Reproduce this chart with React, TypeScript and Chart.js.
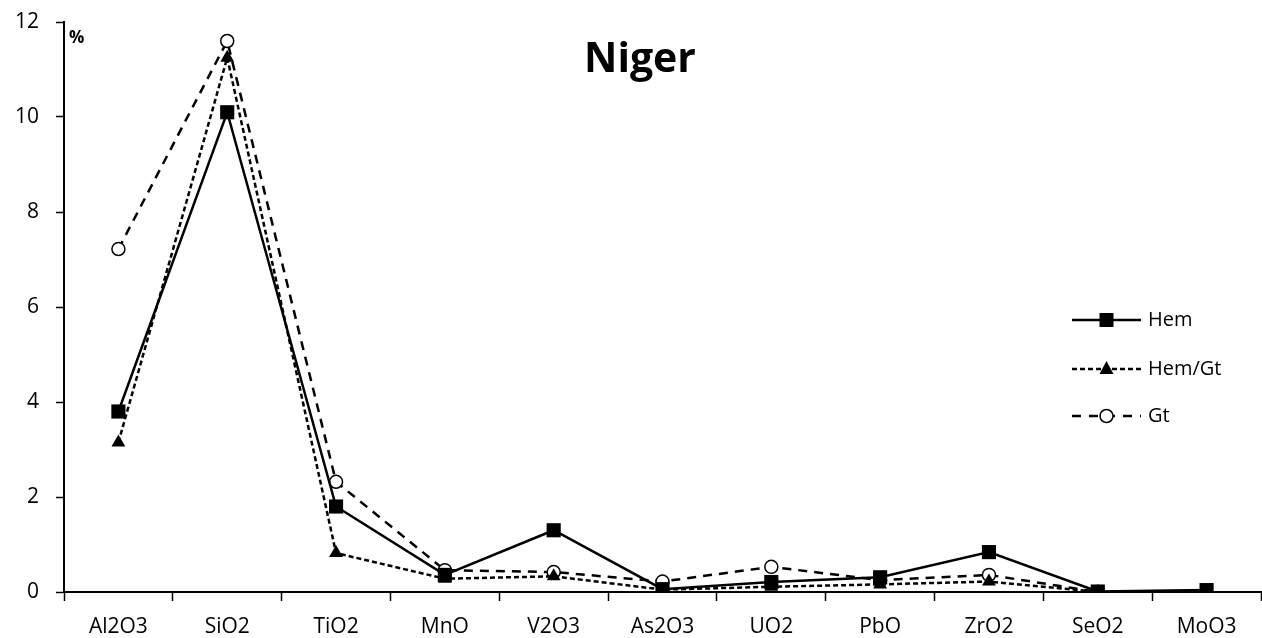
import React, { useEffect, useRef } from "react";
import { Chart, registerables } from "chart.js";

Chart.register(...registerables);

const categories = ["Al2O3", "SiO2", "TiO2", "MnO", "V2O3", "As2O3", "UO2", "PbO", "ZrO2", "SeO2", "MoO3"];
const hem = [3.8, 10.1, 1.8, 0.36, 1.3, 0.06, 0.21, 0.31, 0.84, 0.01, 0.04];
const hemGt = [3.15, 11.25, 0.82, 0.28, 0.33, 0.05, 0.11, 0.16, 0.22, 0.0, null];
const gt = [7.22, 11.6, 2.32, 0.46, 0.42, 0.22, 0.53, 0.25, 0.36, 0.0, null];
const yTicks = [0, 2, 4, 6, 8, 10, 12];
const seriesNames = ["Hem", "Hem/Gt", "Gt"];
const chartTitle = "Niger";
const unitLabel = "%";

const FONT = "'Open Sans', 'Noto Sans', sans-serif";

export default function App() {
  const ref = useRef<HTMLCanvasElement | null>(null);

  useEffect(() => {
    document.body.style.margin = "0";
    const canvas = ref.current;
    if (!canvas) return;

    const overlay = {
      id: "overlay",
      afterDraw(chart: any) {
        const ctx = chart.ctx;
        const area = chart.chartArea;
        ctx.save();
        // title
        ctx.fillStyle = "#000";
        ctx.font = `bold 41px ${FONT}`;
        ctx.textAlign = "center";
        ctx.textBaseline = "alphabetic";
        ctx.fillText(chartTitle, 640, 72);
        // unit label
        ctx.font = `bold 17px ${FONT}`;
        ctx.textAlign = "left";
        ctx.fillText(unitLabel, area.left + 5, 43);
        // legend
        const rows = [
          { y: 320, dash: [], style: "rect" },
          { y: 369, dash: [5, 3], style: "triangle" },
          { y: 416, dash: [9, 8], style: "circle" },
        ];
        const x0 = 1072, x1 = 1141, xm = (x0 + x1) / 2;
        rows.forEach((r, i) => {
          ctx.beginPath();
          ctx.setLineDash(r.dash);
          ctx.lineWidth = 2.5;
          ctx.strokeStyle = "#000";
          ctx.moveTo(x0, r.y);
          ctx.lineTo(x1, r.y);
          ctx.stroke();
          ctx.setLineDash([]);
          ctx.fillStyle = "#000";
          if (r.style === "rect") {
            ctx.fillRect(xm - 7, r.y - 7, 14, 14);
          } else if (r.style === "triangle") {
            ctx.beginPath();
            ctx.moveTo(xm, r.y - 8);
            ctx.lineTo(xm + 7, r.y + 5);
            ctx.lineTo(xm - 7, r.y + 5);
            ctx.closePath();
            ctx.fill();
          } else {
            ctx.beginPath();
            ctx.arc(xm, r.y, 6.5, 0, Math.PI * 2);
            ctx.fillStyle = "#fff";
            ctx.fill();
            ctx.lineWidth = 1.5;
            ctx.stroke();
          }
          ctx.fillStyle = "#000";
          ctx.font = `20px ${FONT}`;
          ctx.textAlign = "left";
          ctx.textBaseline = "middle";
          ctx.fillText(seriesNames[i], 1148, r.y);
        });
        ctx.restore();
      },
    };

    const chart = new Chart(canvas, {
      type: "line",
      data: {
        labels: categories,
        datasets: [
          {
            label: seriesNames[0],
            data: hem,
            borderColor: "#000",
            backgroundColor: "#000",
            borderWidth: 2.5,
            pointStyle: "rect",
            pointRadius: 10,
            pointBorderWidth: 0,
            pointBackgroundColor: "#000",
            tension: 0,
          },
          {
            label: seriesNames[1],
            data: hemGt,
            borderColor: "#000",
            backgroundColor: "#000",
            borderWidth: 2.5,
            borderDash: [5, 3],
            pointStyle: "triangle",
            pointRadius: 8,
            pointBorderWidth: 0,
            pointBackgroundColor: "#000",
            tension: 0,
          },
          {
            label: seriesNames[2],
            data: gt,
            borderColor: "#000",
            backgroundColor: "#fff",
            borderWidth: 2.5,
            borderDash: [9, 7],
            pointStyle: "circle",
            pointRadius: 6.5,
            pointBorderWidth: 1.5,
            pointBorderColor: "#000",
            pointBackgroundColor: "#fff",
            tension: 0,
          },
        ],
      },
      options: {
        responsive: false,
        maintainAspectRatio: false,
        animation: false,
        layout: { autoPadding: false, padding: { top: 22, right: 1, bottom: 0, left: 0 } },
        plugins: {
          legend: { display: false },
          title: { display: false },
          tooltip: { enabled: false },
        },
        scales: {
          x: {
            type: "category",
            offset: true,
            border: { color: "#000", width: 2 },
            grid: {
              offset: true,
              drawOnChartArea: false,
              drawTicks: true,
              tickLength: 9,
              tickWidth: 1.5,
              tickColor: "#000",
            },
            ticks: {
              color: "#000",
              font: { family: FONT, size: 21 },
              padding: 13,
              maxRotation: 0,
              autoSkip: false,
            },
            afterFit(scale: any) {
              scale.height = 46;
              scale.paddingLeft = 0;
              scale.paddingRight = 0;
            },
          },
          y: {
            min: 0,
            max: 12,
            afterBuildTicks(scale: any) {
              scale.ticks = yTicks.map((v) => ({ value: v }));
            },
            border: { color: "#000", width: 2 },
            grid: {
              drawOnChartArea: false,
              drawTicks: true,
              tickLength: 8,
              tickWidth: 1.5,
              tickColor: "#000",
            },
            ticks: {
              color: "#000",
              font: { family: FONT, size: 21 },
              padding: 17,
            },
            afterFit(scale: any) {
              scale.width = 64;
              scale.paddingTop = 0;
              scale.paddingBottom = 0;
            },
          },
        },
      },
      plugins: [overlay],
    });

    return () => chart.destroy();
  }, []);

  return (
    <div style={{ position: "fixed", left: 0, top: 0, width: 1262, height: 638 }}>
      <canvas ref={ref} width={1262} height={638} style={{ width: 1262, height: 638 }} />
    </div>
  );
}
